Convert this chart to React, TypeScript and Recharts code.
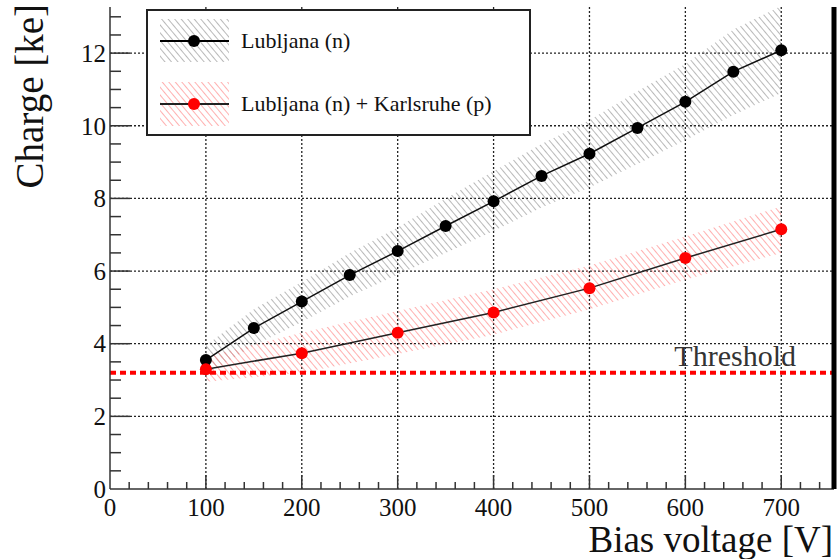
import React from 'react';
import {
  ComposedChart, Line, Area, XAxis, YAxis, CartesianGrid, ReferenceLine, Legend,
} from 'recharts';

// ---- data ----
const volts = [100, 150, 200, 250, 300, 350, 400, 450, 500, 550, 600, 650, 700];
const lubljana = [3.55, 4.43, 5.16, 5.89, 6.55, 7.24, 7.92, 8.62, 9.23, 9.94, 10.66, 11.49, 12.08];
const lubljanaLow = [3.15, 3.95, 4.6, 5.3, 5.9, 6.5, 7.1, 7.75, 8.3, 8.95, 9.6, 10.3, 10.9];
const lubljanaHigh = [3.95, 4.95, 5.7, 6.5, 7.2, 8.0, 8.75, 9.5, 10.15, 10.95, 11.7, 12.65, 13.3];

const combinedVolts = [100, 200, 300, 400, 500, 600, 700];
const combined = [3.3, 3.74, 4.3, 4.86, 5.53, 6.36, 7.15];
const combinedLow = [2.95, 3.2, 3.72, 4.25, 4.95, 5.76, 6.5];
const combinedHigh = [3.65, 4.3, 4.9, 5.5, 6.15, 6.95, 7.78];

const threshold = 3.2;

const xMajorTicks = [0, 100, 200, 300, 400, 500, 600, 700];
const yMajorTicks = [0, 2, 4, 6, 8, 10, 12];
const xGrid = [100, 200, 300, 400, 500, 600, 700];
const yGrid = [2, 4, 6, 8, 10, 12];
const xAllTicks = Array.from({ length: 38 }, (_, i) => i * 20);
const yAllTicks = Array.from({ length: 27 }, (_, i) => i * 0.5);

const seriesNames = ['Lubljana (n)', 'Lubljana (n) + Karlsruhe (p)'];

const data = volts.map((v, i) => {
  const j = combinedVolts.indexOf(v);
  return {
    v,
    n: lubljana[i],
    nBand: [lubljanaLow[i], lubljanaHigh[i]],
    np: j >= 0 ? combined[j] : null,
    npBand: j >= 0 ? [combinedLow[j], combinedHigh[j]] : null,
  };
});

const FONT = '"Liberation Serif", "DejaVu Serif", serif';

const XTick = (props: any) => {
  const { x, y, payload } = props;
  const val = payload.value;
  const major = xMajorTicks.includes(val);
  return (
    <g>
      {val !== 0 && (
        <line x1={x} x2={x} y1={y} y2={y - (major ? 14 : 7)} stroke="#333" strokeWidth={1.5} />
      )}
      {major && (
        <text x={x} y={y + 27} textAnchor="middle" fontFamily={FONT} fontSize={25} fill="#111">
          {val}
        </text>
      )}
    </g>
  );
};

const YTick = (props: any) => {
  const { x, y, payload } = props;
  const val = payload.value;
  const major = yMajorTicks.includes(val);
  return (
    <g>
      {val !== 0 && (
        <line x1={x} x2={x + (major ? 20 : 11)} y1={y} y2={y} stroke="#333" strokeWidth={1.5} />
      )}
      {major && (
        <text x={x - 4} y={y} dy="0.35em" textAnchor="end" fontFamily={FONT} fontSize={25} fill="#111">
          {val}
        </text>
      )}
    </g>
  );
};

const HatchDefs = ({ prefix }: { prefix: string }) => (
  <defs>
    <pattern id={`${prefix}Gray`} patternUnits="userSpaceOnUse" width={5} height={5} patternTransform="rotate(-40)">
      <line x1={0} y1={0} x2={0} y2={5} stroke="#8a8a8a" strokeWidth={1.2} />
    </pattern>
    <pattern id={`${prefix}Red`} patternUnits="userSpaceOnUse" width={5} height={5} patternTransform="rotate(-40)">
      <line x1={0} y1={0} x2={0} y2={5} stroke="#ff7a7a" strokeWidth={1.2} />
    </pattern>
  </defs>
);

const LegendBox = () => (
  <svg width={386} height={128} style={{ display: 'block' }}>
    <HatchDefs prefix="lg" />
    <rect x={1} y={1} width={383} height={125} fill="#fff" stroke="#222" strokeWidth={2} />
    <rect x={14} y={10} width={69} height={43} fill="url(#lgGray)" />
    <line x1={14} x2={83} y1={32} y2={32} stroke="#000" strokeWidth={2} />
    <circle cx={48} cy={32} r={6} fill="#000" />
    <text x={95} y={39} fontFamily={FONT} fontSize={22} fill="#111">{seriesNames[0]}</text>
    <rect x={14} y={73} width={69} height={44} fill="url(#lgRed)" />
    <line x1={14} x2={83} y1={95} y2={95} stroke="#222" strokeWidth={2} />
    <circle cx={48} cy={95} r={6} fill="#ff0000" />
    <text x={95} y={102} fontFamily={FONT} fontSize={22} fill="#111">{seriesNames[1]}</text>
  </svg>
);

const YTitle = (props: any) => {
  const vb = props.viewBox || { x: 0, y: 7, width: 110, height: 482 };
  const cx = vb.x + 29;
  const cy = vb.y - 3;
  return (
    <text x={cx} y={cy} transform={`rotate(-90 ${cx} ${cy})`} dy="0.35em" textAnchor="end"
      fontFamily={FONT} fontSize={39} fill="#111">
      Charge [ke]
    </text>
  );
};

const XTitle = (props: any) => {
  const vb = props.viewBox || { x: 110, y: 489, width: 724, height: 70 };
  return (
    <text x={vb.x + vb.width - 1} y={vb.y + 63} textAnchor="end" fontFamily={FONT} fontSize={37} fill="#111">
      Bias voltage [V]
    </text>
  );
};

const ThresholdLabel = (props: any) => {
  const vb = props.viewBox || { x: 110, y: 373, width: 724 };
  return (
    <text x={vb.x + vb.width - 38} y={vb.y - 7} textAnchor="end" fontFamily={FONT} fontSize={30} fill="#333">
      Threshold
    </text>
  );
};

export default function App() {
  return (
    <div style={{ position: 'absolute', left: 0, top: 0, background: '#fff' }}>
      <ComposedChart width={837} height={559} data={data} margin={{ top: 7, right: 0, bottom: 0, left: 0 }}>
        <HatchDefs prefix="ch" />
        <CartesianGrid
          verticalValues={xGrid}
          horizontalValues={yGrid}
          stroke="#222"
          strokeDasharray="2 2"
          strokeWidth={1.3}
        />
        <XAxis
          dataKey="v"
          type="number"
          domain={[0, 755]}
          ticks={xAllTicks}
          interval={0}
          allowDataOverflow
          tickSize={0}
          tickMargin={0}
          tickLine={false}
          tick={<XTick />}
          height={70}
          axisLine={{ stroke: '#333', strokeWidth: 1.5 }}
          label={<XTitle />}
        />
        <XAxis
          xAxisId="top"
          orientation="top"
          dataKey="v"
          type="number"
          domain={[0, 755]}
          height={0}
          tick={false}
          tickLine={false}
          axisLine={{ stroke: '#555', strokeWidth: 1.5 }}
        />
        <YAxis
          type="number"
          domain={[0, 13.27]}
          ticks={yAllTicks}
          interval={0}
          allowDataOverflow
          tickSize={0}
          tickMargin={0}
          tickLine={false}
          tick={<YTick />}
          width={110}
          axisLine={{ stroke: '#333', strokeWidth: 1.5 }}
          label={<YTitle />}
        />
        <YAxis
          yAxisId="right"
          orientation="right"
          type="number"
          domain={[0, 13.27]}
          width={3}
          tick={false}
          tickLine={false}
          axisLine={{ stroke: '#000', strokeWidth: 5 }}
        />
        <Area
          type="linear"
          dataKey="nBand"
          stroke="none"
          fill="url(#chGray)"
          fillOpacity={1}
          isAnimationActive={false}
          activeDot={false}
          legendType="none"
        />
        <Area
          type="linear"
          dataKey="npBand"
          stroke="none"
          fill="url(#chRed)"
          fillOpacity={1}
          connectNulls
          isAnimationActive={false}
          activeDot={false}
          legendType="none"
        />
        <ReferenceLine
          y={threshold}
          stroke="#ff0000"
          strokeWidth={4}
          strokeDasharray="6 4"
          label={<ThresholdLabel />}
        />
        <Line
          type="linear"
          dataKey="n"
          name={seriesNames[0]}
          stroke="#111"
          strokeWidth={1.5}
          dot={{ r: 6, fill: '#000', stroke: 'none' }}
          isAnimationActive={false}
        />
        <Line
          type="linear"
          dataKey="np"
          name={seriesNames[1]}
          stroke="#222"
          strokeWidth={1.5}
          connectNulls
          dot={(p: any) =>
            p.value == null || p.payload.np == null ? <g key={p.key} /> :
              <circle key={p.key} cx={p.cx} cy={p.cy} r={6} fill="#ff0000" />
          }
          isAnimationActive={false}
        />
        <Legend
          layout="horizontal"
          verticalAlign="middle"
          align="center"
          wrapperStyle={{ top: 9, left: 146, width: 386, height: 128 }}
          content={() => <LegendBox />}
        />
      </ComposedChart>
    </div>
  );
}
